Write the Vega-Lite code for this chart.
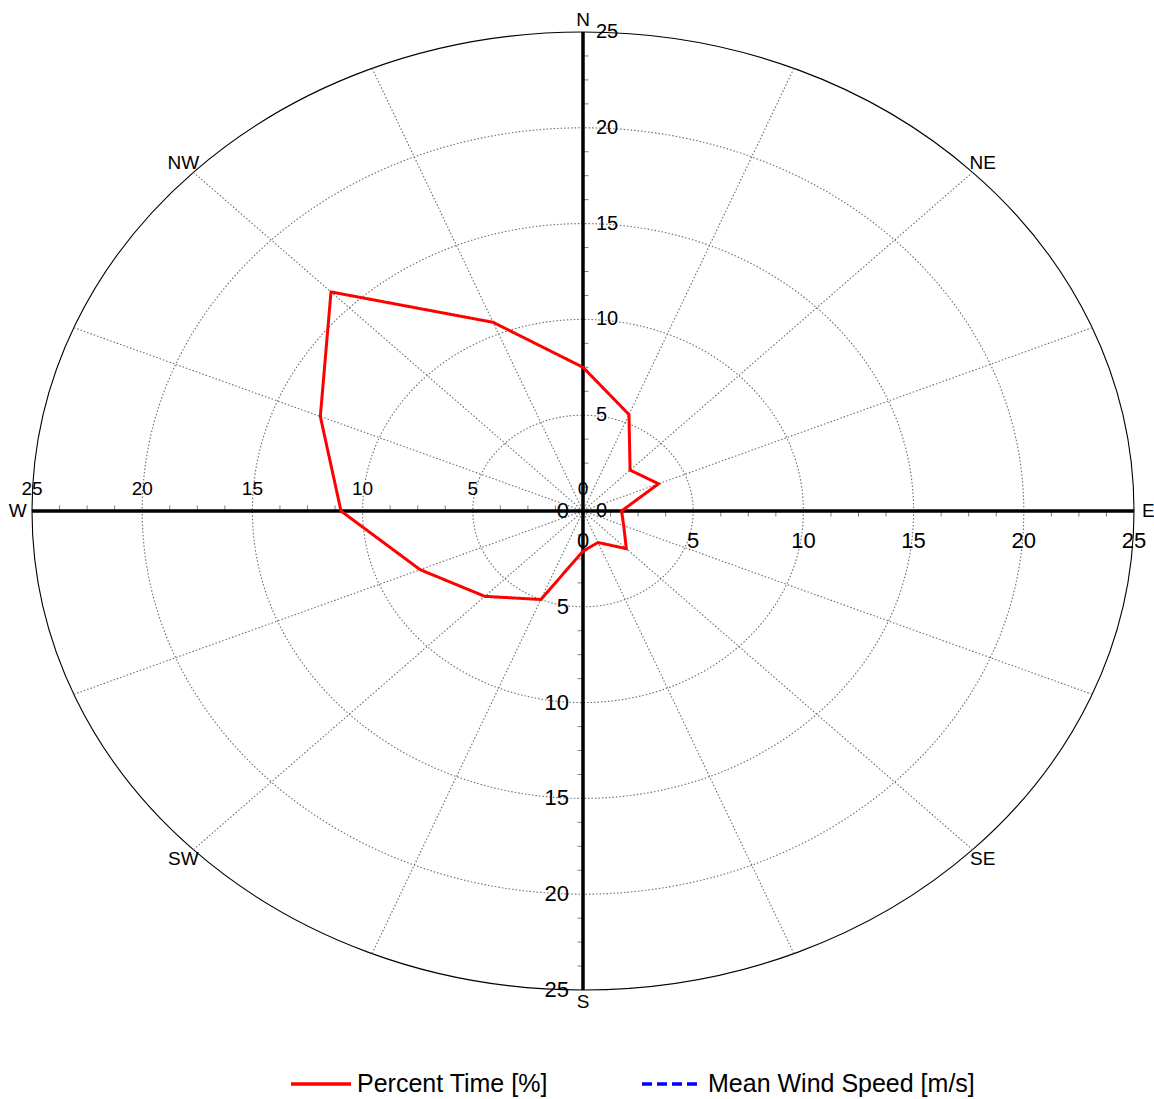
{
  "$schema": "https://vega.github.io/schema/vega-lite/v6.json",
  "width": 1102,
  "height": 958,
  "autosize": {"type": "none"},
  "padding": {"left": 32, "top": 32, "right": 20, "bottom": 109},
  "background": "white",
  "config": {"view": {"stroke": null}, "font": "Liberation Sans", "text": {"font": "Liberation Sans", "color": "black"}, "legend": {"symbolStrokeWidth": 3.5, "labelLimit": 0}},
  "datasets": {
    "rose": [
      {"dir": 0, "pct": 7.5, "series": "Percent Time [%]"},
      {"dir": 22.5, "pct": 5.45, "series": "Percent Time [%]"},
      {"dir": 45, "pct": 3.02, "series": "Percent Time [%]"},
      {"dir": 67.5, "pct": 3.71, "series": "Percent Time [%]"},
      {"dir": 90, "pct": 1.75, "series": "Percent Time [%]"},
      {"dir": 112.5, "pct": 2.0, "series": "Percent Time [%]"},
      {"dir": 135, "pct": 2.78, "series": "Percent Time [%]"},
      {"dir": 157.5, "pct": 1.78, "series": "Percent Time [%]"},
      {"dir": 180, "pct": 2.1, "series": "Percent Time [%]"},
      {"dir": 202.5, "pct": 5.0, "series": "Percent Time [%]"},
      {"dir": 225, "pct": 6.3, "series": "Percent Time [%]"},
      {"dir": 247.5, "pct": 8.0, "series": "Percent Time [%]"},
      {"dir": 270, "pct": 10.98, "series": "Percent Time [%]"},
      {"dir": 292.5, "pct": 12.9, "series": "Percent Time [%]"},
      {"dir": 315, "pct": 16.17, "series": "Percent Time [%]"},
      {"dir": 337.5, "pct": 10.66, "series": "Percent Time [%]"}
    ],
    "rings": [{"r": 5}, {"r": 10}, {"r": 15}, {"r": 20}, {"r": 25}],
    "dirs": [
      {"dir": 0, "label": "N"}, {"dir": 22.5, "label": ""}, {"dir": 45, "label": "NE"}, {"dir": 67.5, "label": ""},
      {"dir": 90, "label": "E"}, {"dir": 112.5, "label": ""}, {"dir": 135, "label": "SE"}, {"dir": 157.5, "label": ""},
      {"dir": 180, "label": "S"}, {"dir": 202.5, "label": ""}, {"dir": 225, "label": "SW"}, {"dir": 247.5, "label": ""},
      {"dir": 270, "label": "W"}, {"dir": 292.5, "label": ""}, {"dir": 315, "label": "NW"}, {"dir": 337.5, "label": ""}
    ],
    "ticks": [{"v": 0}, {"v": 5}, {"v": 10}, {"v": 15}, {"v": 20}, {"v": 25}],
    "minor": [
      {"v": 1.25}, {"v": 2.5}, {"v": 3.75}, {"v": 6.25}, {"v": 7.5}, {"v": 8.75},
      {"v": 11.25}, {"v": 12.5}, {"v": 13.75}, {"v": 16.25}, {"v": 17.5}, {"v": 18.75},
      {"v": 21.25}, {"v": 22.5}, {"v": 23.75}
    ]
  },
  "layer": [
    {
      "data": {"name": "rings"},
      "transform": [{"filter": "datum.r < 25"}, {"calculate": "0", "as": "c"}],
      "mark": {"type": "point", "shape": "M 1 0 C 1 0.48012 0.55228 0.86933 0 0.86933 C -0.55228 0.86933 -1 0.48012 -1 0 C -1 -0.48012 -0.55228 -0.86933 0 -0.86933 C 0.55228 -0.86933 1 -0.48012 1 0 Z", "filled": false, "stroke": "#6e6e6e", "strokeWidth": 1.1, "strokeDash": [1.5, 2], "opacity": 1},
      "encoding": {
        "x": {"field": "c", "type": "quantitative", "scale": {"domain": [-25, 25], "nice": false, "zero": false}, "axis": null},
        "y": {"field": "c", "type": "quantitative", "scale": {"domain": [-25, 25], "nice": false, "zero": false}, "axis": null},
        "size": {"field": "r", "type": "quantitative", "scale": {"type": "pow", "exponent": 2, "domain": [0, 25], "range": [0, 1214404]}, "legend": null}
      }
    },
    {
      "data": {"name": "rings"},
      "transform": [{"filter": "datum.r == 25"}, {"calculate": "0", "as": "c"}],
      "mark": {"type": "point", "shape": "M 1 0 C 1 0.48012 0.55228 0.86933 0 0.86933 C -0.55228 0.86933 -1 0.48012 -1 0 C -1 -0.48012 -0.55228 -0.86933 0 -0.86933 C 0.55228 -0.86933 1 -0.48012 1 0 Z", "filled": false, "stroke": "#000000", "strokeWidth": 1.1, "opacity": 1},
      "encoding": {
        "x": {"field": "c", "type": "quantitative"},
        "y": {"field": "c", "type": "quantitative"},
        "size": {"field": "r", "type": "quantitative", "legend": null}
      }
    },
    {
      "data": {"name": "dirs"},
      "transform": [
        {"calculate": "25 * sin(datum.dir * PI / 180)", "as": "ex"},
        {"calculate": "25 * cos(datum.dir * PI / 180)", "as": "ey"},
        {"calculate": "0", "as": "c"}
      ],
      "mark": {"type": "rule", "stroke": "#6e6e6e", "strokeWidth": 1.1, "strokeDash": [1.5, 2]},
      "encoding": {
        "x": {"field": "ex", "type": "quantitative"},
        "y": {"field": "ey", "type": "quantitative"},
        "x2": {"field": "c"},
        "y2": {"field": "c"}
      }
    },
    {
      "data": {"name": "minor"},
      "transform": [{"calculate": "0", "as": "c"}],
      "mark": {"type": "tick", "orient": "vertical", "color": "#808080", "size": 5, "thickness": 1, "yOffset": 3, "opacity": 1},
      "encoding": {
        "x": {"field": "v", "type": "quantitative"},
        "y": {"field": "c", "type": "quantitative"}
      }
    },
    {
      "data": {"name": "minor"},
      "transform": [{"calculate": "-datum.v", "as": "nv"}, {"calculate": "0", "as": "c"}],
      "mark": {"type": "tick", "orient": "vertical", "color": "#808080", "size": 5, "thickness": 1, "yOffset": -3, "opacity": 1},
      "encoding": {
        "x": {"field": "nv", "type": "quantitative"},
        "y": {"field": "c", "type": "quantitative"}
      }
    },
    {
      "data": {"name": "minor"},
      "transform": [{"calculate": "0", "as": "c"}],
      "mark": {"type": "tick", "orient": "horizontal", "color": "#808080", "size": 5, "thickness": 1, "xOffset": 3, "opacity": 1},
      "encoding": {
        "y": {"field": "v", "type": "quantitative"},
        "x": {"field": "c", "type": "quantitative"}
      }
    },
    {
      "data": {"name": "minor"},
      "transform": [{"calculate": "-datum.v", "as": "nv"}, {"calculate": "0", "as": "c"}],
      "mark": {"type": "tick", "orient": "horizontal", "color": "#808080", "size": 5, "thickness": 1, "xOffset": -3, "opacity": 1},
      "encoding": {
        "y": {"field": "nv", "type": "quantitative"},
        "x": {"field": "c", "type": "quantitative"}
      }
    },
    {
      "data": {"values": [{"axis": "h"}]},
      "transform": [{"calculate": "0", "as": "c"}],
      "mark": {"type": "rule", "stroke": "#000000", "strokeWidth": 3.5},
      "encoding": {
        "y": {"field": "c", "type": "quantitative"}
      }
    },
    {
      "data": {"values": [{"axis": "v"}]},
      "transform": [{"calculate": "0", "as": "c"}],
      "mark": {"type": "rule", "stroke": "#000000", "strokeWidth": 3.5},
      "encoding": {
        "x": {"field": "c", "type": "quantitative"}
      }
    },
    {
      "data": {"name": "rose"},
      "transform": [
        {"calculate": "datum.pct * sin(datum.dir * PI / 180)", "as": "px"},
        {"calculate": "datum.pct * cos(datum.dir * PI / 180)", "as": "py"}
      ],
      "mark": {"type": "line", "interpolate": "linear-closed", "strokeWidth": 3},
      "encoding": {
        "x": {"field": "px", "type": "quantitative"},
        "y": {"field": "py", "type": "quantitative"},
        "order": {"field": "dir", "type": "quantitative"},
        "color": {
          "field": "series", "type": "nominal",
          "scale": {"domain": ["Percent Time [%]", "Mean Wind Speed [m/s]"], "range": ["#ff0000", "#0000ff"]},
          "legend": {"orient": "none", "legendX": 257, "legendY": 1020, "direction": "horizontal", "title": null, "symbolType": "stroke", "symbolSize": 3600, "symbolStrokeWidth": 3.5, "labelFontSize": 25, "labelFont": "Liberation Sans", "labelColor": "black", "labelLimit": 0, "columnPadding": 87, "labelOffset": 4, "padding": 0}
        },
        "strokeDash": {
          "field": "series", "type": "nominal",
          "scale": {"domain": ["Percent Time [%]", "Mean Wind Speed [m/s]"], "range": [[1, 0], [10, 5]]},
          "legend": {"orient": "none", "legendX": 257, "legendY": 1020, "direction": "horizontal", "title": null, "symbolType": "stroke", "symbolSize": 3600, "symbolStrokeWidth": 3.5, "labelFontSize": 25, "labelFont": "Liberation Sans", "labelColor": "black", "labelLimit": 0, "columnPadding": 87, "labelOffset": 4, "padding": 0}
        }
      }
    },
    {
      "data": {"name": "dirs"},
      "transform": [
        {"filter": "datum.label != ''"},
        {"calculate": "25.65 * sin(datum.dir * PI / 180)", "as": "lx"},
        {"calculate": "25.65 * cos(datum.dir * PI / 180)", "as": "ly"}
      ],
      "mark": {"type": "text", "fontSize": 19, "align": "center", "baseline": "middle"},
      "encoding": {
        "x": {"field": "lx", "type": "quantitative"},
        "y": {"field": "ly", "type": "quantitative"},
        "text": {"field": "label"}
      }
    },
    {
      "data": {"name": "ticks"},
      "transform": [{"calculate": "0", "as": "c"}],
      "mark": {"type": "text", "fontSize": 22, "align": "center", "baseline": "middle", "dy": 30},
      "encoding": {
        "x": {"field": "v", "type": "quantitative"},
        "y": {"field": "c", "type": "quantitative"},
        "text": {"field": "v"}
      }
    },
    {
      "data": {"name": "ticks"},
      "transform": [{"calculate": "-datum.v", "as": "nv"}, {"calculate": "0", "as": "c"}],
      "mark": {"type": "text", "fontSize": 19, "align": "center", "baseline": "middle", "dy": -22},
      "encoding": {
        "x": {"field": "nv", "type": "quantitative"},
        "y": {"field": "c", "type": "quantitative"},
        "text": {"field": "v"}
      }
    },
    {
      "data": {"name": "ticks"},
      "transform": [{"calculate": "0", "as": "c"}],
      "mark": {"type": "text", "fontSize": 20, "align": "left", "baseline": "middle", "dx": 13},
      "encoding": {
        "y": {"field": "v", "type": "quantitative"},
        "x": {"field": "c", "type": "quantitative"},
        "text": {"field": "v"}
      }
    },
    {
      "data": {"name": "ticks"},
      "transform": [{"calculate": "-datum.v", "as": "nv"}, {"calculate": "0", "as": "c"}],
      "mark": {"type": "text", "fontSize": 22, "align": "right", "baseline": "middle", "dx": -14},
      "encoding": {
        "y": {"field": "nv", "type": "quantitative"},
        "x": {"field": "c", "type": "quantitative"},
        "text": {"field": "v"}
      }
    }
  ]
}
